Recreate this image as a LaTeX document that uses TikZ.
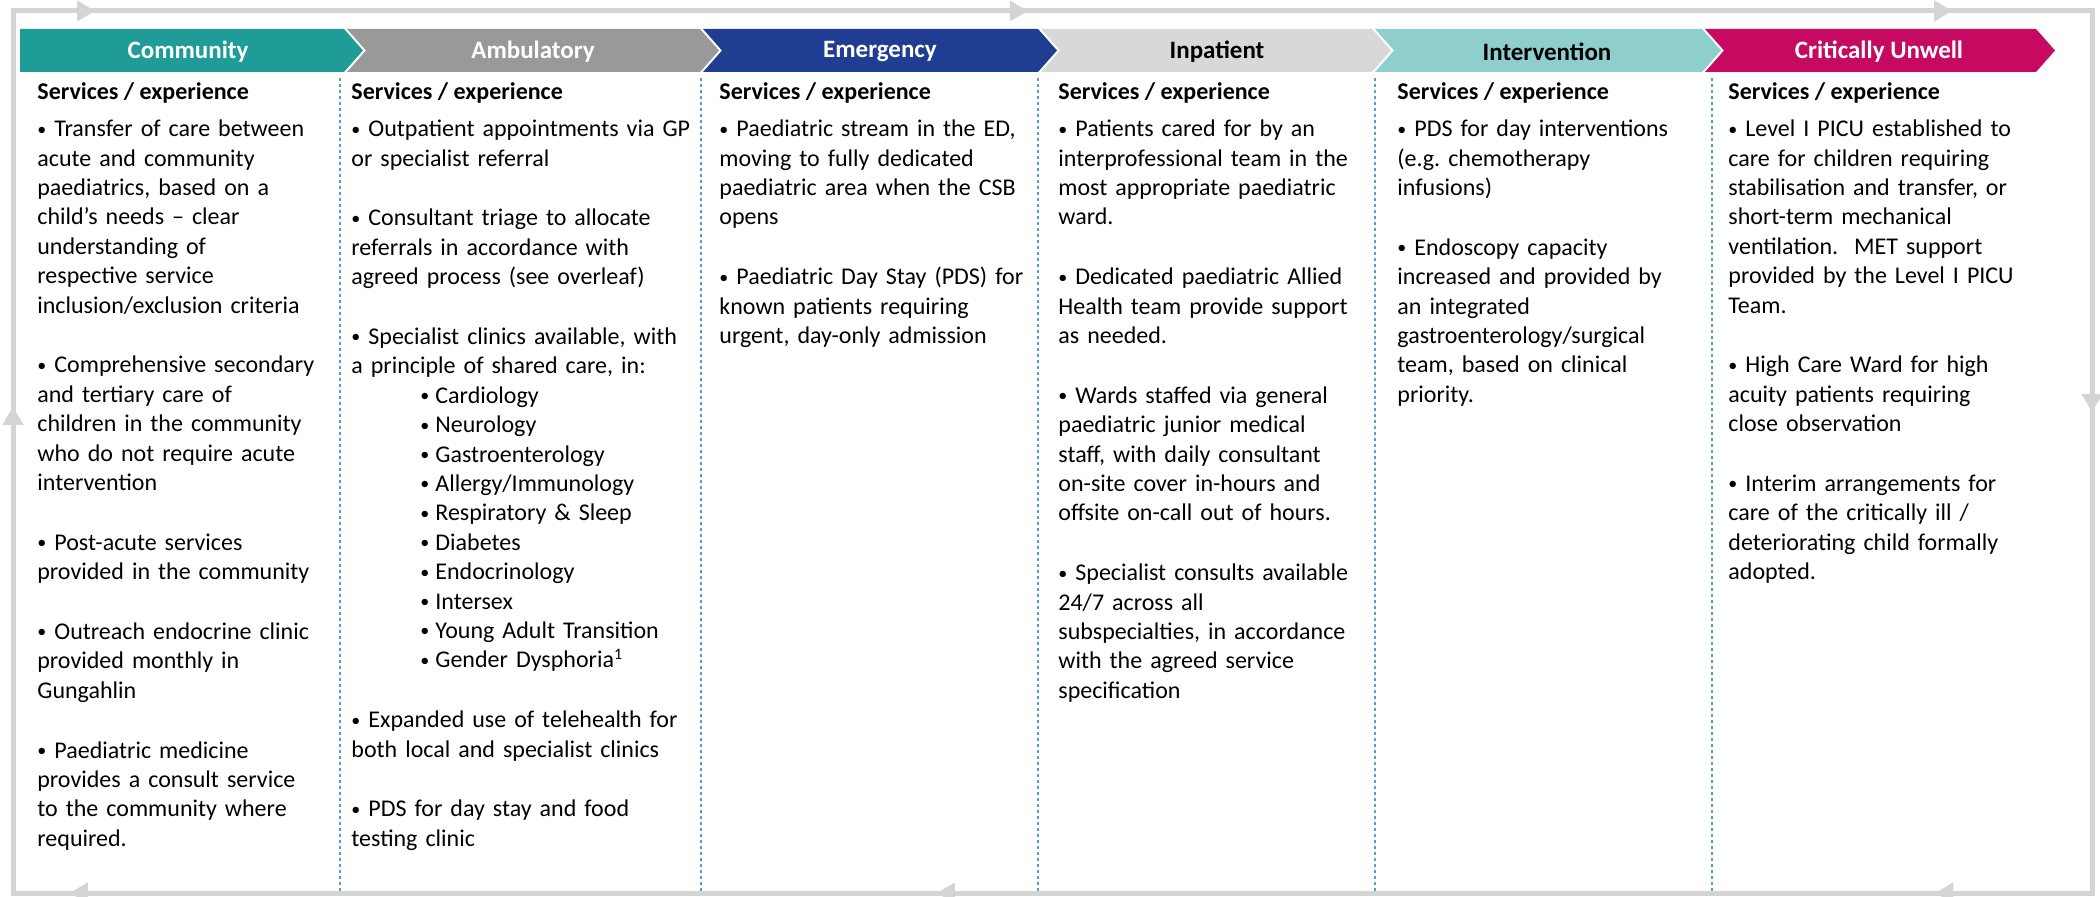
\documentclass[tikz,border=0pt]{standalone}
\usepackage{fontspec}
\setmainfont{Carlito}
\usetikzlibrary{arrows.meta,decorations.markings}

\definecolor{commcol}{RGB}{32,156,152}
\definecolor{ambucol}{RGB}{153,153,153}
\definecolor{emercol}{RGB}{31,62,146}
\definecolor{inpacol}{RGB}{216,216,218}
\definecolor{intecol}{RGB}{142,206,205}
\definecolor{critcol}{RGB}{198,10,98}
\definecolor{loopgrey}{RGB}{212,212,212}
\definecolor{ruleblue}{RGB}{91,155,213}

% bullet with hanging indent, sub bullet, space between bullets
\newcommand{\bdot}{\raisebox{0.8pt}{\fontsize{9}{9}\selectfont\textbullet}}
\newcommand{\bul}[1]{\par\noindent\hangindent=8.5pt\hangafter=1\makebox[8.5pt][l]{\strut\bdot}#1\par}
\newcommand{\subbul}[1]{\\\hspace*{34.5pt}\makebox[7.5pt][l]{\bdot}#1}
\newcommand{\itemgap}{\vskip 15.2pt}

\begin{document}
\begin{tikzpicture}[x=0.5pt, y=-0.5pt,
  phase/.style={inner sep=0pt, font=\bfseries\fontsize{12.5}{15}\selectfont},
  head/.style={anchor=base west, inner sep=0pt, font=\bfseries\fontsize{12}{14.7}\selectfont},
  body/.style={anchor=north west, inner sep=0pt, text width=175pt, align=left, font=\fontsize{12}{14.7}\selectfont},
  divider/.style={ruleblue, line width=0.7pt, dash pattern=on 1.7pt off 1.3pt},
  loopline/.style={loopgrey, line width=2.5pt}]
\useasboundingbox (0,0) rectangle (2100,897);
\clip (0,0) rectangle (2100,897);

% grey loop round the whole pathway
\draw[loopline, postaction={decorate}, decoration={markings,
    mark=at position 0.0821 with {\arrow{Triangle[length=9pt,width=10pt]}},
    mark=at position 0.1628 with {\arrow{Triangle[length=9pt,width=10pt]}},
    mark=at position 0.3203 with {\arrow{Triangle[length=9pt,width=10pt]}},
    mark=at position 0.4764 with {\arrow{Triangle[length=9pt,width=10pt]}},
    mark=at position 0.5677 with {\arrow{Triangle[length=9pt,width=10pt]}},
    mark=at position 0.6754 with {\arrow{Triangle[length=9pt,width=10pt]}},
    mark=at position 0.8440 with {\arrow{Triangle[length=9pt,width=10pt]}},
    mark=at position 0.9904 with {\arrow{Triangle[length=9pt,width=10pt]}}}]
  (13,893) -- (13,11) -- (2092,11) -- (2092,893) -- cycle;

% chevrons
\fill[commcol] (20,29) -- (344,29) -- (363,50.5) -- (344,72) -- (20,72) -- cycle;
\fill[ambucol] (347,29) -- (700,29) -- (719,50.5) -- (700,72) -- (347,72) -- (366,50.5) -- cycle;
\fill[emercol] (703,29) -- (1038,29) -- (1057,50.5) -- (1038,72) -- (703,72) -- (722,50.5) -- cycle;
\fill[inpacol] (1041,29) -- (1372,29) -- (1391,50.5) -- (1372,72) -- (1041,72) -- (1060,50.5) -- cycle;
\fill[intecol] (1375,29) -- (1702,29) -- (1721,50.5) -- (1702,72) -- (1375,72) -- (1394,50.5) -- cycle;
\fill[critcol] (1705,29) -- (2036,29) -- (2055,50.5) -- (2036,72) -- (1705,72) -- (1724,50.5) -- cycle;

\node[phase, white] (community) at (188,52) {Community};
\node[phase, white] (ambulatory) at (533,52) {Ambulatory};
\node[phase, white] (emergency) at (880,52) {Emergency};
\node[phase] (inpatient) at (1217,52) {Inpatient};
\node[phase] (intervention) at (1547,52) {Intervention};
\node[phase, white] (critical) at (1879,52) {Critically Unwell};

% column rules
\draw[divider] (340,78) -- (340,893);
\draw[divider] (701,78) -- (701,893);
\draw[divider] (1038,78) -- (1038,893);
\draw[divider] (1375,78) -- (1375,893);
\draw[divider] (1712,78) -- (1712,893);

\node[head] (srv1) at (37,100) {Services / experience};
\node[head] (srv2) at (351,100) {Services / experience};
\node[head] (srv3) at (719,100) {Services / experience};
\node[head] (srv4) at (1058,100) {Services / experience};
\node[head] (srv5) at (1397,100) {Services / experience};
\node[head] (srv6) at (1728,100) {Services / experience};

\node[body] (txt1) at (37,107) {%
  \bul{Transfer of care between\\ acute and community\\ paediatrics, based on a\\ child's needs -- clear\\ understanding of\\ respective service\\ inclusion/exclusion criteria}
  \itemgap
  \bul{Comprehensive secondary\\ and tertiary care of\\ children in the community\\ who do not require acute\\ intervention}
  \itemgap
  \bul{Post-acute services\\ provided in the community}
  \itemgap
  \bul{Outreach endocrine clinic\\ provided monthly in\\ Gungahlin}
  \itemgap
  \bul{Paediatric medicine\\ provides a consult service\\ to the community where\\ required.}};

\node[body] (txt2) at (351,107) {%
  \bul{Outpatient appointments via GP\\ or specialist referral}
  \itemgap
  \bul{Consultant triage to allocate\\ referrals in accordance with\\ agreed process (see overleaf)}
  \itemgap
  \bul{Specialist clinics available, with\\ a principle of shared care, in:%
    \subbul{Cardiology}\subbul{Neurology}\subbul{Gastroenterology}%
    \subbul{Allergy/Immunology}\subbul{Respiratory \& Sleep}\subbul{Diabetes}%
    \subbul{Endocrinology}\subbul{Intersex}\subbul{Young Adult Transition}%
    \subbul{Gender Dysphoria\textsuperscript{1}}}
  \itemgap
  \bul{Expanded use of telehealth for\\ both local and specialist clinics}
  \itemgap
  \bul{PDS for day stay and food\\ testing clinic}};

\node[body] (txt3) at (719,107) {%
  \bul{Paediatric stream in the ED,\\ moving to fully dedicated\\ paediatric area when the CSB\\ opens}
  \itemgap
  \bul{Paediatric Day Stay (PDS) for\\ known patients requiring\\ urgent, day-only admission}};

\node[body] (txt4) at (1058,107) {%
  \bul{Patients cared for by an\\ interprofessional team in the\\ most appropriate paediatric\\ ward.}
  \itemgap
  \bul{Dedicated paediatric Allied\\ Health team provide support\\ as needed.}
  \itemgap
  \bul{Wards staffed via general\\ paediatric junior medical\\ staff, with daily consultant\\ on-site cover in-hours and\\ offsite on-call out of hours.}
  \itemgap
  \bul{Specialist consults available\\ 24/7 across all\\ subspecialties, in accordance\\ with the agreed service\\ specification}};

\node[body] (txt5) at (1397,107) {%
  \bul{PDS for day interventions\\ (e.g.\ chemotherapy\\ infusions)}
  \itemgap
  \bul{Endoscopy capacity\\ increased and provided by\\ an integrated\\ gastroenterology/surgical\\ team, based on clinical\\ priority.}};

\node[body] (txt6) at (1728,107) {%
  \bul{Level I PICU established to\\ care for children requiring\\ stabilisation and transfer, or\\ short-term mechanical\\ ventilation.\ \ MET support\\ provided by the Level I PICU\\ Team.}
  \itemgap
  \bul{High Care Ward for high\\ acuity patients requiring\\ close observation}
  \itemgap
  \bul{Interim arrangements for\\ care of the critically ill /\\ deteriorating child formally\\ adopted.}};
\end{tikzpicture}
\end{document}
